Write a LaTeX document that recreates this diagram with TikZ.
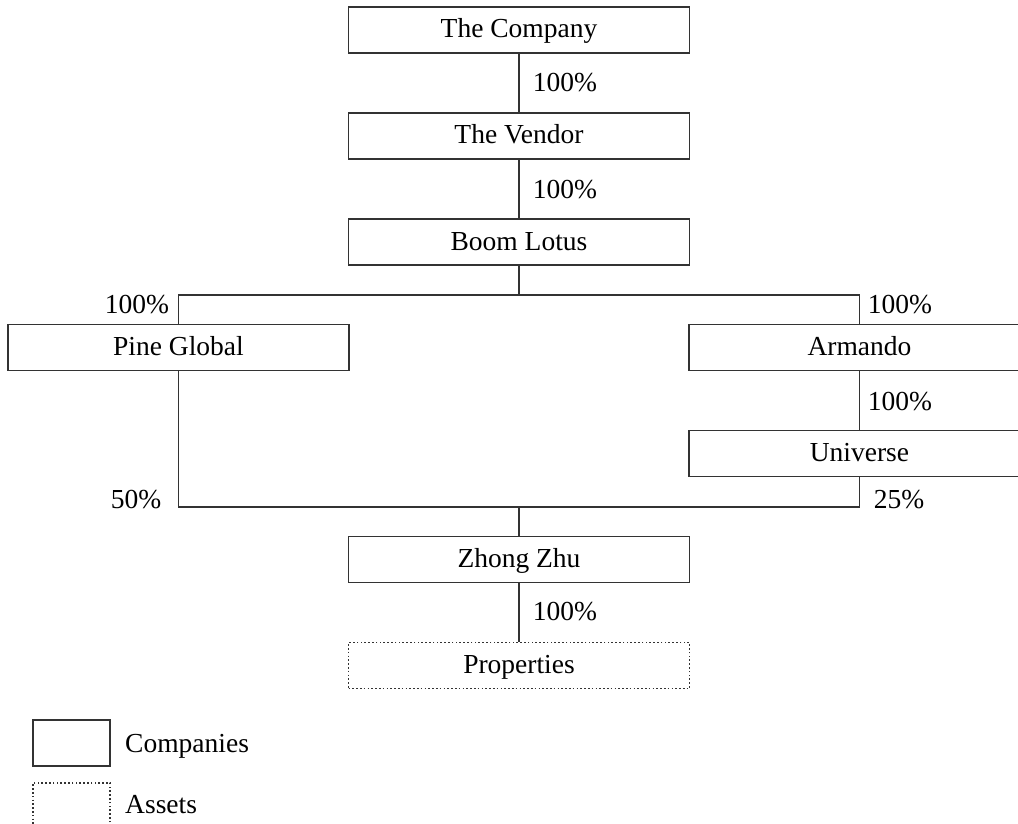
\documentclass[tikz,border=0pt]{standalone}
\usepackage{fontspec}
\setmainfont{Liberation Serif}
\begin{document}
\begin{tikzpicture}[x=1pt,y=-1pt,
  lw/.style={line width=1.1pt, draw=black!80},
  cbox/.style={lw, rectangle, minimum width=341pt, minimum height=46pt, inner sep=0pt,
    font=\fontsize{27.5}{30}\selectfont, text height=18pt, text depth=2pt},
  abox/.style={cbox, dash pattern=on 1.6pt off 2.2pt},
  pct/.style={font=\fontsize{27.5}{30}\selectfont, anchor=base, inner sep=0pt}
]
\useasboundingbox (0,0) rectangle (1018,824);
\node[cbox] (comp) at (519,30) {The Company};
\node[cbox] (vend) at (519,136) {The Vendor};
\node[cbox] (boom) at (519,242) {Boom Lotus};
\node[cbox] (pine) at (178.5,347.5) {Pine Global};
\node[cbox] (arm) at (859.5,347.5) {Armando};
\node[cbox] (uni) at (859.5,453.5) {Universe};
\node[cbox] (zz) at (519,559.5) {Zhong Zhu};
\node[abox] (prop) at (519,665.5) {Properties};
\coordinate (j1) at (519,295);
\coordinate (j2) at (519,507);

\draw[lw] (comp.south) -- (vend.north);
\draw[lw] (vend.south) -- (boom.north);
\draw[lw] (boom.south) -- (j1);
\draw[lw] (pine.north) |- (j1) -| (arm.north);
\draw[lw] (arm.south) -- (uni.north);
\draw[lw] (pine.south) |- (j2) -| (uni.south);
\draw[lw] (j2) -- (zz.north);
\draw[lw] (zz.south) -- (prop.north);

\node[pct] (p1) at (565,92) {100\%};
\node[pct] (p2) at (565,198) {100\%};
\node[pct] (p3) at (137,313) {100\%};
\node[pct] (p4) at (900,313) {100\%};
\node[pct] (p5) at (900,410) {100\%};
\node[pct] (p6) at (136,508) {50\%};
\node[pct] (p7) at (899,508) {25\%};
\node[pct] (p8) at (565,620) {100\%};

\node[lw, rectangle, minimum width=77pt, minimum height=46pt, inner sep=0pt] (lc) at (71.5,743) {};
\node[lw, rectangle, minimum width=77pt, minimum height=46pt, inner sep=0pt, dash pattern=on 1.6pt off 2.2pt] (la) at (71.5,806) {};
\node[pct, anchor=base west] (lct) at (125,752) {Companies};
\node[pct, anchor=base west] (lat) at (125,813) {Assets};
\end{tikzpicture}
\end{document}
